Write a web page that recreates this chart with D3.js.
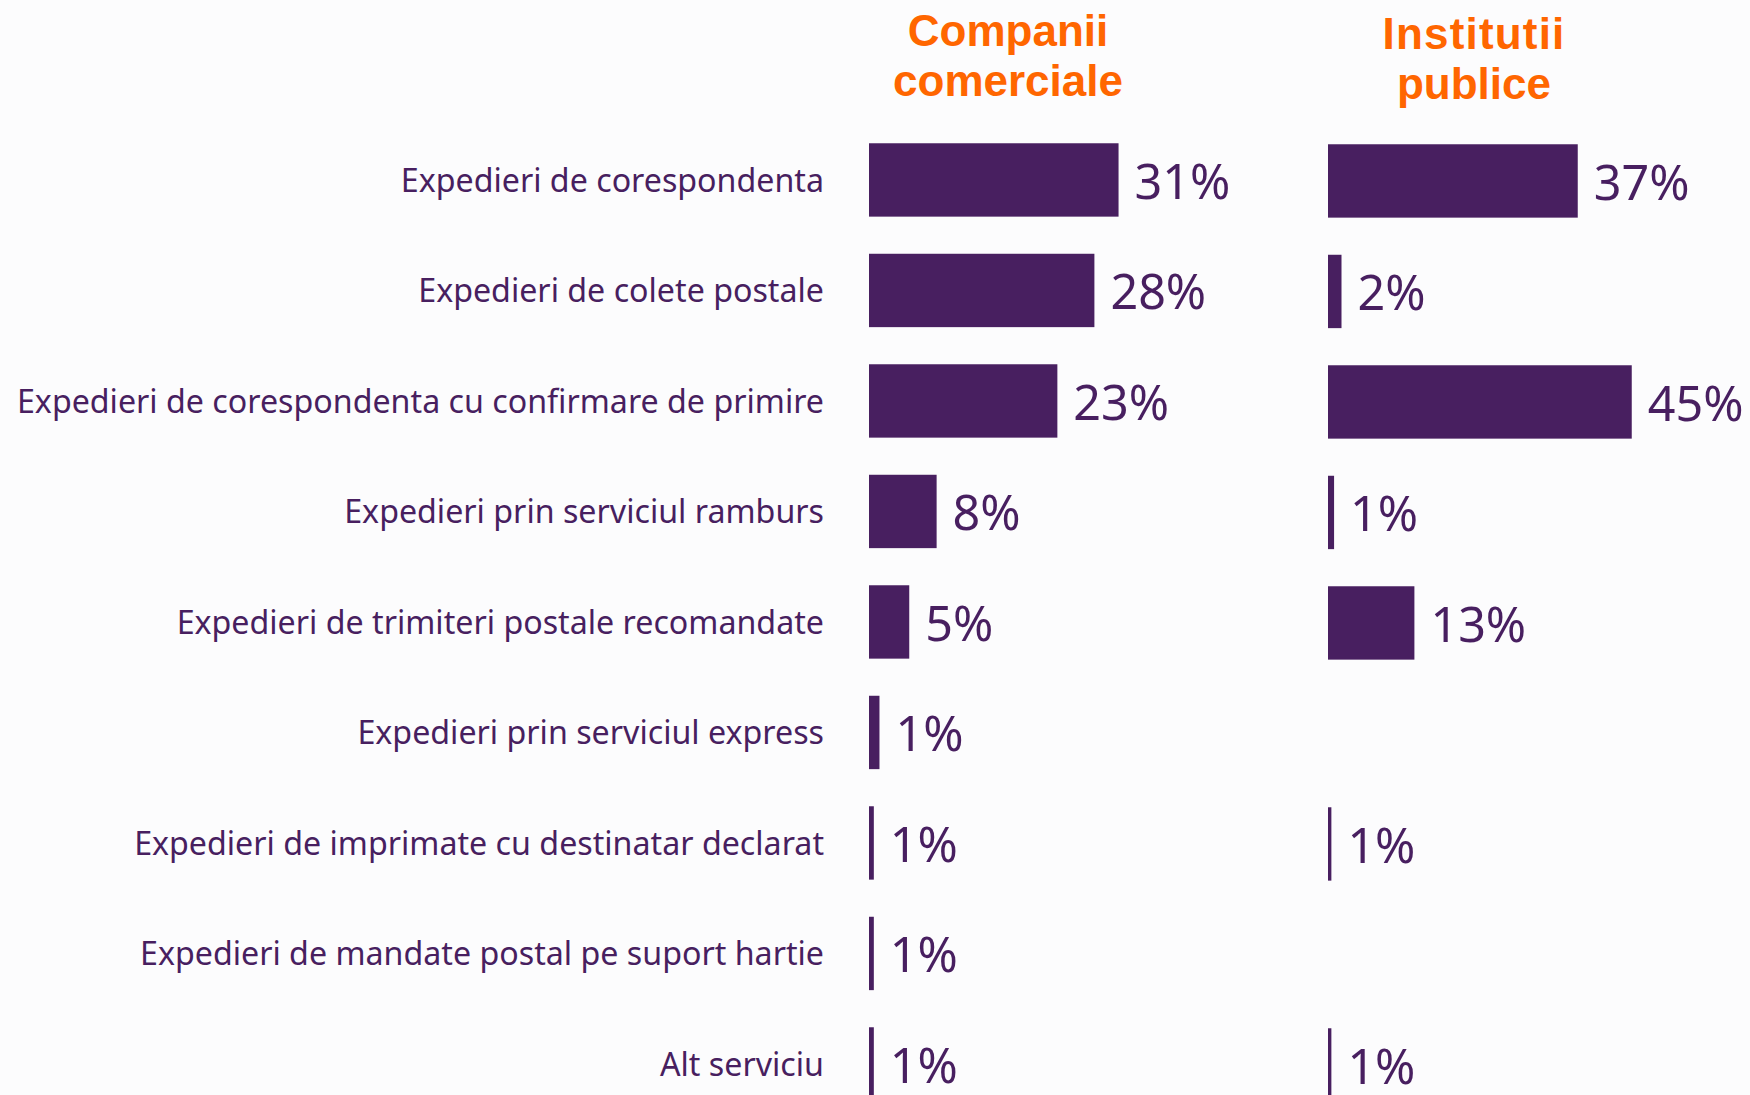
<!DOCTYPE html>
<html>
<head>
<meta charset="utf-8">
<script src="https://cdn.jsdelivr.net/npm/d3@7"></script>
<style>
  html, body { margin: 0; padding: 0; background: #fcfcfd; }
  svg { display: block; }
</style>
</head>
<body>
<svg id="chart" width="1750" height="1095"></svg>
<script>
// services, top to bottom
var categories = [
  'Expedieri de corespondenta',
  'Expedieri de colete postale',
  'Expedieri de corespondenta cu confirmare de primire',
  'Expedieri prin serviciul ramburs',
  'Expedieri de trimiteri postale recomandate',
  'Expedieri prin serviciul express',
  'Expedieri de imprimate cu destinatar declarat',
  'Expedieri de mandate postal pe suport hartie',
  'Alt serviciu'
];

// share of respondents, % (null = no answer shown)
var companii = [31, 28, 23.4, 8.4, 5, 1.3, 0.6, 0.6, 0.6];
var institutii = [37, 2, 45, 0.9, 12.8, null, 0.5, null, 0.5];

var titleCompanii = ['Companii', 'comerciale'];
var titleInstitutii = ['Institutii', 'publice'];

var purple = '#481f60';
var orange = '#ff6600';

var svg = d3.select('#chart');

var y = d3.scaleBand()
  .domain(categories)
  .range([124.7, 124.7 + 9 * 110.5])
  .paddingInner(0.336)
  .paddingOuter(0.168);

var xLeft = d3.scaleLinear().domain([0, 100]).range([869, 869 + 805]);
var xRight = d3.scaleLinear().domain([0, 100]).range([1328, 1328 + 675]);

function fmt(v) {
  return Math.max(1, Math.round(v)) + '%';
}

// category labels
svg.append('g')
  .selectAll('text')
  .data(categories)
  .enter()
  .append('text')
  .attr('x', 824)
  .attr('y', function(d){ return y(d) + y.bandwidth() / 2 + 12; })
  .attr('text-anchor', 'end')
  .attr('font-family', 'Noto Sans, sans-serif')
  .attr('font-size', 32.2)
  .attr('fill', purple)
  .text(function(d){ return d; });

function panel(values, x, title, cx, dy, ty, spacing) {
  var rows = categories.map(function(c, i){ return {cat: c, v: values[i]}; })
    .filter(function(d){ return d.v != null; });
  var g = svg.append('g');

  g.selectAll('rect')
    .data(rows)
    .enter()
    .append('rect')
    .attr('x', x(0))
    .attr('y', function(d){ return y(d.cat) + dy; })
    .attr('width', function(d){ return x(d.v) - x(0); })
    .attr('height', y.bandwidth())
    .attr('fill', purple);

  g.selectAll('text.val')
    .data(rows)
    .enter()
    .append('text')
    .attr('class', 'val')
    .attr('x', function(d){ return x(d.v) + 16; })
    .attr('y', function(d){ return y(d.cat) + dy + y.bandwidth() / 2 + 19; })
    .attr('font-family', 'Noto Sans, sans-serif')
    .attr('font-size', 48.5)
    .attr('fill', purple)
    .text(function(d){ return fmt(d.v); });

  g.selectAll('text.title')
    .data(title)
    .enter()
    .append('text')
    .attr('class', 'title')
    .attr('x', cx)
    .attr('y', function(d, i){ return ty + i * 50; })
    .attr('text-anchor', 'middle')
    .attr('font-family', 'Liberation Sans, Arial, sans-serif')
    .attr('font-weight', 'bold')
    .attr('font-size', 44)
    .attr('letter-spacing', function(d, i){ return i == 0 ? spacing : 0; })
    .attr('fill', orange)
    .text(function(d){ return d; });
}

panel(companii, xLeft, titleCompanii, 1008, 0, 46, 0);
panel(institutii, xRight, titleInstitutii, 1474, 1, 49, 1.2);
</script>
</body>
</html>
